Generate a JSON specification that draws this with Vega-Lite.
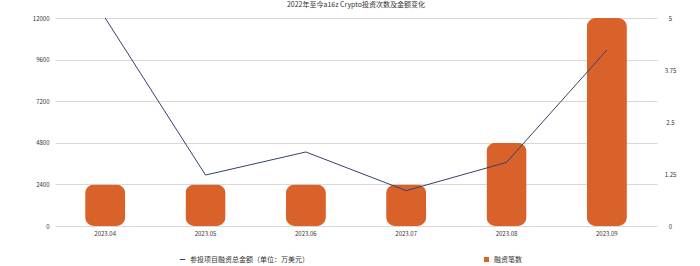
{
  "$schema": "https://vega.github.io/schema/vega-lite/v6.json",
  "width": 602,
  "height": 208,
  "autosize": {"type": "none"},
  "padding": {"left": 55, "top": 18, "right": 43, "bottom": 40},
  "background": "white",
  "title": {
    "text": "2022年至今a16z Crypto投资次数及金额变化",
    "fontSize": 7,
    "font": "Noto Sans CJK SC",
    "fontWeight": "normal",
    "color": "#333333",
    "anchor": "middle",
    "offset": 7
  },
  "data": {
    "values": [
      {"month": "2023.04", "amount": 12000, "count": 1},
      {"month": "2023.05", "amount": 2940, "count": 1},
      {"month": "2023.06", "amount": 4270, "count": 1},
      {"month": "2023.07", "amount": 2040, "count": 1},
      {"month": "2023.08", "amount": 3670, "count": 2},
      {"month": "2023.09", "amount": 10150, "count": 5}
    ]
  },
  "encoding": {
    "x": {
      "field": "month",
      "type": "ordinal",
      "title": null,
      "scale": {"paddingInner": 0.6, "paddingOuter": 0.3},
      "axis": {"labelAngle": 0, "ticks": false, "domain": false, "labelFontSize": 6, "labelPadding": 4, "labelColor": "#333333"}
    }
  },
  "layer": [
    {
      "mark": {"type": "bar", "cornerRadius": 9},
      "encoding": {
        "y": {
          "field": "count",
          "type": "quantitative",
          "title": null,
          "scale": {"domain": [0, 5]},
          "axis": {"orient": "right", "values": [0, 1.25, 2.5, 3.75, 5], "format": ".3~f", "grid": false, "ticks": false, "domain": false, "labelFontSize": 6, "labelAlign": "center", "labelPadding": 13, "labelColor": "#333333"}
        },
        "fill": {
          "datum": "融资笔数",
          "scale": {"range": ["#D9622B"]},
          "legend": {"orient": "none", "legendX": 428, "legendY": 238, "title": null, "symbolType": "square", "symbolSize": 25, "labelFontSize": 7, "labelFont": "Noto Sans CJK SC", "labelColor": "#333333"}
        }
      }
    },
    {
      "mark": {"type": "line", "strokeWidth": 1},
      "encoding": {
        "y": {
          "field": "amount",
          "type": "quantitative",
          "title": null,
          "scale": {"domain": [0, 12000]},
          "axis": {"orient": "left", "values": [0, 2400, 4800, 7200, 9600, 12000], "format": "d", "grid": true, "gridColor": "#d9d9d9", "ticks": false, "domain": false, "labelFontSize": 6, "labelPadding": 6, "labelColor": "#333333"}
        },
        "stroke": {
          "datum": "参投项目融资总金额（单位：万美元）",
          "scale": {"range": ["#34426A"]},
          "legend": {"orient": "none", "legendX": 124, "legendY": 238, "title": null, "symbolType": "stroke", "symbolSize": 30, "symbolStrokeWidth": 1, "labelFontSize": 7, "labelFont": "Noto Sans CJK SC", "labelColor": "#333333"}
        }
      }
    }
  ],
  "resolve": {"scale": {"y": "independent"}},
  "config": {
    "view": {"stroke": null},
    "font": "Noto Sans CJK SC"
  }
}
